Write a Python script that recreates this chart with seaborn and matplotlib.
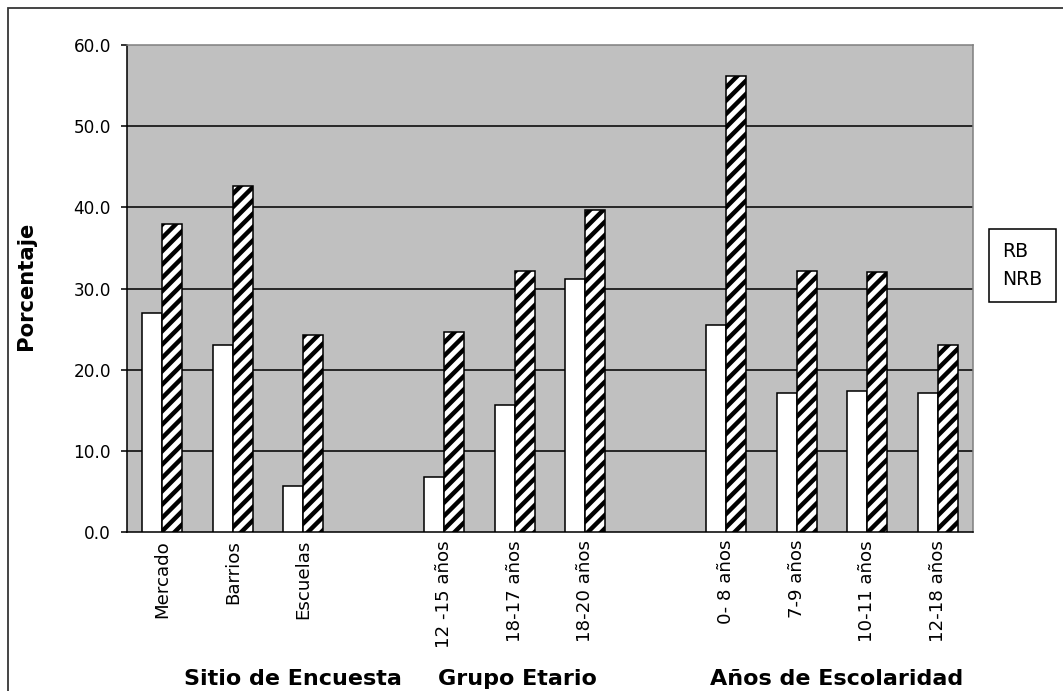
import numpy as np
import pandas as pd
import seaborn as sns
import matplotlib
matplotlib.use("Agg")
import matplotlib.pyplot as plt
from matplotlib.patches import Rectangle, Patch
from matplotlib.ticker import FormatStrFormatter

# categories, blank strings are the empty slots between groups
categorias = ["Mercado", "Barrios", "Escuelas", " ",
              "12 -15 años", "18-17 años", "18-20 años", "  ",
              "0- 8 años", "7-9 años", "10-11 años", "12-18 años"]
cat_datos = ["Mercado", "Barrios", "Escuelas",
             "12 -15 años", "18-17 años", "18-20 años",
             "0- 8 años", "7-9 años", "10-11 años", "12-18 años"]
rb = [27.0, 23.1, 5.7, 6.8, 15.6, 31.2, 25.5, 17.1, 17.4, 17.1]
nrb = [37.9, 42.6, 24.3, 24.7, 32.2, 39.7, 56.2, 32.2, 32.0, 23.1]
series = ["RB", "NRB"]
grupos = ["Sitio de Encuesta", "Grupo Etario", "Años de Escolaridad"]
yticks = [0, 10, 20, 30, 40, 50, 60]

df = pd.DataFrame({
    "cat": cat_datos * 2,
    "serie": [series[0]] * len(rb) + [series[1]] * len(nrb),
    "val": rb + nrb,
})

DPI = 160
W, H = 1063, 691
sns.set_style("white")
plt.rcParams["font.family"] = ["DejaVu Sans"]
plt.rcParams["hatch.linewidth"] = 2.0
for k in ["text.color", "axes.labelcolor", "xtick.color", "ytick.color"]:
    plt.rcParams[k] = "black"

fig = plt.figure(figsize=(W / DPI, H / DPI), dpi=DPI)
ax = fig.add_axes([127 / W, 1 - 532 / H, 846 / W, 487 / H])
ax.set_facecolor("#c0c0c0")

sns.barplot(data=df, x="cat", y="val", hue="serie", order=categorias,
            hue_order=series, palette=["white", "white"], width=0.57,
            gap=0, edgecolor="black", linewidth=0.7, legend=False,
            errorbar=None, ax=ax, zorder=3)

for bar in ax.containers[1]:
    bar.set_hatch("////")

for y in yticks[1:-1]:
    ax.axhline(y, color="black", lw=0.7, zorder=1)

ax.set_ylim(0, 60)
ax.set_xlim(-0.5, len(categorias) - 0.5)
ax.set_yticks(yticks)
ax.yaxis.set_major_formatter(FormatStrFormatter("%.1f"))
ax.set_xticks(range(len(categorias)))
ax.set_xticklabels(categorias, rotation=90, fontsize=8.2)
ax.set_xticks(np.arange(-0.5, len(categorias), 1), minor=True)
ax.tick_params(axis="x", which="major", length=0, pad=3.6)
ax.tick_params(axis="x", which="minor", length=2.7, width=0.7,
               direction="out", color="black")
ax.tick_params(axis="y", length=2.7, width=0.7, direction="out",
               color="black", pad=4.5, labelsize=7.6, left=True)
ax.set_xlabel("")
ax.set_ylabel("Porcentaje", fontsize=9.5, fontweight="bold")
ax.yaxis.set_label_coords(-0.108, 0.506)

for s in ["left", "bottom"]:
    ax.spines[s].set_color("black")
    ax.spines[s].set_linewidth(0.7)
for s in ["top", "right"]:
    ax.spines[s].set_color("#808080")
    ax.spines[s].set_linewidth(0.7)

# group captions below the tick labels
for g, xc in zip(grupos, [293, 517, 837]):
    fig.text(xc / W, 1 - 685 / H, g, ha="center", va="baseline",
             fontsize=10, fontweight="bold")

# legend without keys
handles = [Patch(facecolor="none", edgecolor="none") for _ in series]
leg = ax.legend(handles, series, loc="upper left",
                bbox_to_anchor=(989 / W, 1 - 229 / H),
                bbox_transform=fig.transFigure, borderaxespad=0,
                handlelength=0, handletextpad=0, borderpad=0.7,
                labelspacing=0.45, fontsize=8.5, fancybox=False,
                framealpha=1)
leg.get_frame().set_edgecolor("black")
leg.get_frame().set_linewidth(0.7)

# outer chart frame
fig.patches.append(Rectangle((8 / W, -0.1), 1.2, 1.1 - 8 / H,
                             transform=fig.transFigure, fill=False,
                             ec="#333333", lw=0.8))

fig.savefig("out.png", dpi=DPI)
